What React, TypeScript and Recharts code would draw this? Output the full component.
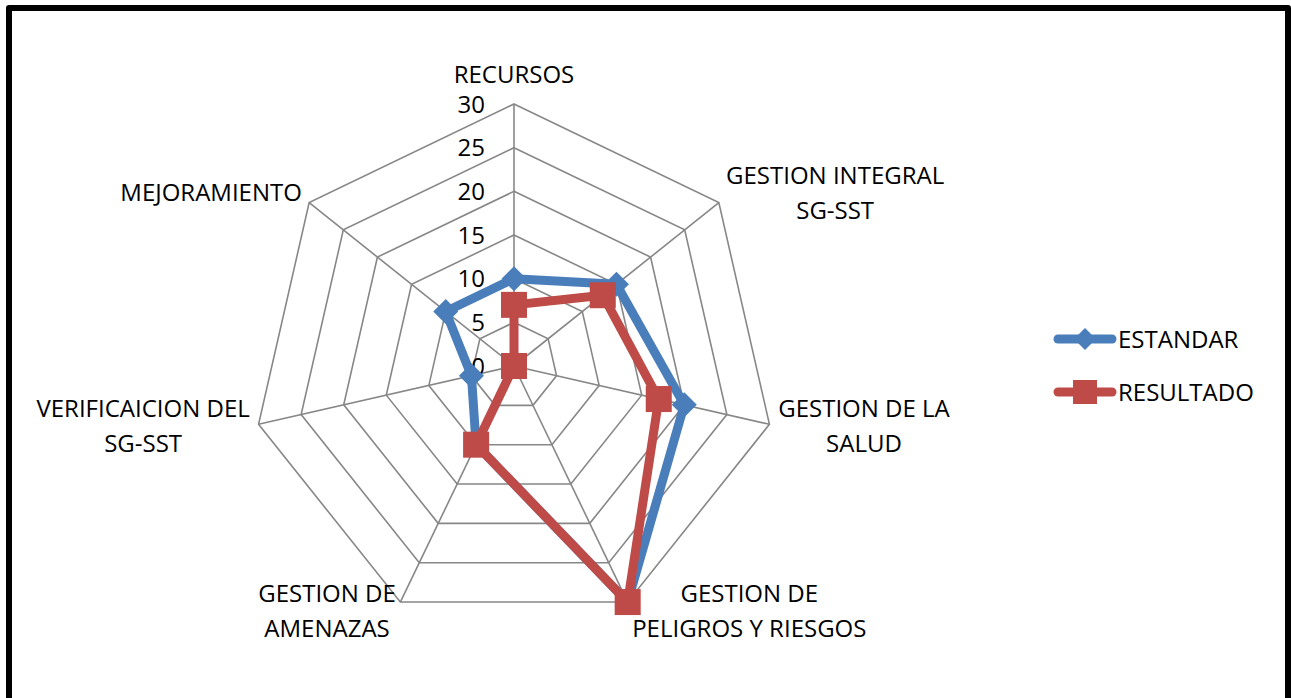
import React from 'react';
import { RadarChart, Radar, PolarGrid, PolarAngleAxis, PolarRadiusAxis, Legend } from 'recharts';

// Categories (line breaks as in the original labels)
const categories = [
  'RECURSOS',
  'GESTION INTEGRAL\nSG-SST',
  'GESTION DE LA\nSALUD',
  'GESTION DE\nPELIGROS Y RIESGOS',
  'GESTION DE\nAMENAZAS',
  'VERIFICAICION DEL\nSG-SST',
  'MEJORAMIENTO',
];

const estandar = [10, 15, 20, 30, 10, 5, 10];
const resultado = [7, 13, 17, 30, 10, 0, 0];

const radiusTicks = [0, 5, 10, 15, 20, 25, 30];

const data = categories.map((name, i) => ({
  name,
  estandar: estandar[i],
  resultado: resultado[i],
}));

const BLUE = '#4A7EBB';
const RED = '#BE4B48';
const FONT = '"Open Sans", sans-serif';
const FONT_SIZE = 24;

let ctx: CanvasRenderingContext2D | null = null;
const measure = (s: string) => {
  if (!ctx) ctx = document.createElement('canvas').getContext('2d');
  if (!ctx) return s.length * 13;
  ctx.font = `${FONT_SIZE}px "Open Sans"`;
  return ctx.measureText(s).width;
};

const AngleTick = (props: any) => {
  const { x, y, payload } = props;
  const lines = String(payload.value).split('\n');
  const a = (-payload.coordinate * Math.PI) / 180;
  const dx = Math.cos(a);
  const dy = Math.sin(a);
  const w = Math.max(...lines.map(measure));
  const lh = 35;
  let tx = x;
  if (dx > 0.1) tx = x + 1 + w / 2;
  else if (dx < -0.1) tx = x - 1 - w / 2;
  let ty = y + (dy < 0 ? dy * 8 : dy * 1.5);
  if (Math.abs(dx) <= 0.1) ty = y - 22;
  const top = ty - ((lines.length - 1) * lh) / 2;
  return (
    <text textAnchor="middle" fontSize={FONT_SIZE} fontFamily={FONT} fill="#000">
      {lines.map((l, i) => (
        <tspan key={i} x={tx} y={top + i * lh + 8.5}>
          {l}
        </tspan>
      ))}
    </text>
  );
};

const RadiusTick = (props: any) => (
  <text
    x={props.x - 29}
    y={props.y + 8.5}
    textAnchor="end"
    fontSize={FONT_SIZE}
    fontFamily={FONT}
    fill="#000"
  >
    {props.payload.value}
  </text>
);

const diamond = (cx: number, cy: number, s: number) =>
  `M${cx},${cy - s} L${cx + s},${cy} L${cx},${cy + s} L${cx - s},${cy} Z`;

const BlueDot = (props: any) => {
  const { cx, cy, index } = props;
  if (cx == null || cy == null) return null;
  return <path key={`b-${index}`} d={diamond(cx, cy, 12.5)} fill={BLUE} />;
};

const RedDot = (props: any) => {
  const { cx, cy, index } = props;
  if (cx == null || cy == null) return null;
  return <rect key={`r-${index}`} x={cx - 13} y={cy - 13} width={26} height={26} fill={RED} />;
};

const legendItems = [
  { name: 'ESTANDAR', color: BLUE, marker: 'diamond' },
  { name: 'RESULTADO', color: RED, marker: 'square' },
];

const LegendContent = () => (
  <div style={{ fontFamily: FONT, fontSize: FONT_SIZE, color: '#000' }}>
    {legendItems.map(item => (
      <div key={item.name} style={{ display: 'flex', alignItems: 'center', height: 53 }}>
        <svg width={70} height={30} style={{ display: 'block' }}>
          <line
            x1={10}
            y1={15}
            x2={64}
            y2={15}
            stroke={item.color}
            strokeWidth={9}
            strokeLinecap="round"
          />
          {item.marker === 'diamond' ? (
            <path d={diamond(37, 15, 11)} fill={item.color} />
          ) : (
            <rect x={25} y={3} width={24} height={24} fill={item.color} />
          )}
        </svg>
        <span style={{ lineHeight: 1 }}>{item.name}</span>
      </div>
    ))}
  </div>
);

export default function App() {
  return (
    <div style={{ position: 'absolute', left: 0, top: 0, width: 1291, height: 698, overflow: 'hidden', background: '#fff' }}>
      <div
        style={{
          position: 'absolute',
          left: 6,
          top: 5,
          width: 1285,
          height: 730,
          boxSizing: 'border-box',
          border: '6px solid #000',
          borderRadius: 3,
        }}
      />
      <RadarChart
        width={1291}
        height={698}
        data={data}
        cx={514}
        cy={366}
        outerRadius={262}
        style={{ position: 'absolute', left: 0, top: 0 }}
        margin={{ top: 0, right: 0, bottom: 0, left: 0 }}
      >
        <PolarGrid gridType="polygon" stroke="#878787" strokeWidth={1.6} />
        <PolarAngleAxis dataKey="name" tick={<AngleTick />} tickLine={false} axisLine={false} />
        <PolarRadiusAxis
          angle={90}
          domain={[0, 30]}
          ticks={radiusTicks as any}
          tickCount={7}
          tick={<RadiusTick />}
          axisLine={false}
          tickLine={false}
        />
        <Radar
          name="ESTANDAR"
          dataKey="estandar"
          stroke={BLUE}
          strokeWidth={9}
          strokeLinejoin="round"
          fill="none"
          fillOpacity={0}
          dot={BlueDot}
          isAnimationActive={false}
        />
        <Radar
          name="RESULTADO"
          dataKey="resultado"
          stroke={RED}
          strokeWidth={9}
          strokeLinejoin="round"
          fill="none"
          fillOpacity={0}
          dot={RedDot}
          isAnimationActive={false}
        />
        <Legend
          content={<LegendContent />}
          wrapperStyle={{ left: 1048, top: 312, width: 240 }}
        />
      </RadarChart>
    </div>
  );
}
